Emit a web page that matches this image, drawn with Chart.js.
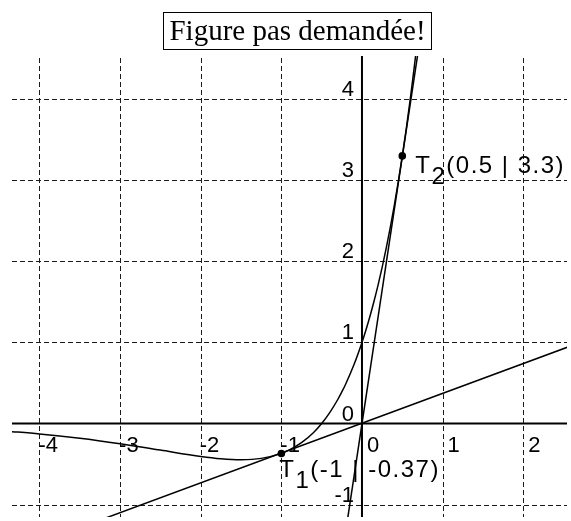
<!DOCTYPE html>
<html>
<head>
<meta charset="utf-8">
<script src="https://cdn.jsdelivr.net/npm/chart.js@4.4.1/dist/chart.umd.min.js"></script>
<style>
  html, body { margin: 0; padding: 0; background: #fff; }
  canvas { display: block; }
</style>
</head>
<body>
<canvas id="c" width="571" height="521"></canvas>
<script>
// f(x) = (2x + 1)·e^x, sampled values
const curveX = [-4.4, -4.0, -3.5, -3.0, -2.5, -2.0, -1.75, -1.5, -1.25, -1.0, -0.9, -0.75, -0.6, -0.5, -0.4, -0.3, -0.25, -0.2, -0.1, 0.0, 0.05, 0.1, 0.15, 0.2, 0.25, 0.3, 0.35, 0.4, 0.45, 0.5, 0.55, 0.6, 0.65, 0.7];
const curveY = [-0.096, -0.128, -0.181, -0.249, -0.328, -0.406, -0.434, -0.446, -0.430, -0.368, -0.325, -0.236, -0.110, 0.0, 0.134, 0.296, 0.389, 0.491, 0.724, 1.0, 1.156, 1.326, 1.510, 1.710, 1.926, 2.160, 2.412, 2.685, 2.980, 3.297, 3.640, 4.009, 4.406, 4.833];

// Lines through the origin and the two marked points
const line1X = [-3.3, 2.6];
const line1Y = [-1.21, 0.96];
const line2X = [-0.2, 0.72];
const line2Y = [-1.32, 4.74];

// Marked points
const pointX = [-1, 0.5];
const pointY = [-0.37, 3.3];
const pointSub = ['1', '2'];
const pointText = ['(-1 | -0.37)', '(0.5 | 3.3)'];

// Axis ticks
const xTicks = [-4, -3, -2, -1, 0, 1, 2];
const yTicks = [-1, 0, 1, 2, 3, 4];

const titleText = 'Figure pas demandée!';

const toXY = (xs, ys) => xs.map((x, i) => ({ x: x, y: ys[i] }));

const SANS = '"Liberation Sans", Arial, sans-serif';
const SERIF = '"Liberation Serif", "Times New Roman", serif';

const geoPlugin = {
  id: 'geoAxes',
  beforeDatasetsDraw(chart) {
    const { ctx, chartArea: a, scales } = chart;
    const sx = scales.x, sy = scales.y;
    const x0 = sx.getPixelForValue(0), y0 = sy.getPixelForValue(0);
    ctx.save();
    // dashed grid
    ctx.strokeStyle = '#1a1a1a';
    ctx.lineWidth = 1;
    ctx.setLineDash([5, 3]);
    xTicks.filter(v => v !== 0).forEach(v => {
      const px = Math.round(sx.getPixelForValue(v)) + 0.5;
      ctx.beginPath(); ctx.moveTo(px, a.top + 2); ctx.lineTo(px, a.bottom); ctx.stroke();
    });
    yTicks.filter(v => v !== 0).forEach(v => {
      const py = Math.round(sy.getPixelForValue(v)) + 0.5;
      ctx.beginPath(); ctx.moveTo(a.left, py); ctx.lineTo(a.right, py); ctx.stroke();
    });
    ctx.setLineDash([]);
    // axes
    ctx.strokeStyle = '#000';
    ctx.lineWidth = 2;
    ctx.beginPath(); ctx.moveTo(a.left, y0); ctx.lineTo(a.right, y0); ctx.stroke();
    ctx.beginPath(); ctx.moveTo(x0, a.top); ctx.lineTo(x0, a.bottom); ctx.stroke();
    // tick labels
    ctx.fillStyle = '#000';
    ctx.font = '22px ' + SANS;
    ctx.textBaseline = 'alphabetic';
    ctx.textAlign = 'left';
    xTicks.forEach(v => {
      const px = sx.getPixelForValue(v);
      ctx.fillText(String(v), px + (v < 0 ? -1 : 5), y0 + 28);
    });
    ctx.textAlign = 'right';
    yTicks.forEach(v => {
      const py = sy.getPixelForValue(v);
      ctx.fillText(String(v), x0 - 8, py - 3);
    });
    ctx.restore();
  },
  afterDatasetsDraw(chart) {
    const { ctx, scales } = chart;
    const sx = scales.x, sy = scales.y;
    ctx.save();
    ctx.fillStyle = '#000';
    // point labels: T with subscript, then coordinates
    const offsets = [{ dx: -2, dy: 23 }, { dx: 13, dy: 17 }];
    ctx.font = '24px ' + SANS;
    ctx.textAlign = 'left';
    ctx.textBaseline = 'alphabetic';
    ctx.letterSpacing = '1.5px';
    pointX.forEach((v, i) => {
      const px = sx.getPixelForValue(v) + offsets[i].dx;
      const py = sy.getPixelForValue(pointY[i]) + offsets[i].dy;
      ctx.fillText('T', px, py);
      const wT = ctx.measureText('T').width;
      ctx.fillText(pointSub[i], px + wT, py + 11);
      const wS = ctx.measureText(pointSub[i]).width;
      ctx.fillText(pointText[i], px + wT + wS, py);
    });
    ctx.letterSpacing = '0px';
    // boxed title
    ctx.font = '29px ' + SERIF;
    ctx.textAlign = 'center';
    ctx.fillText(titleText, 297.5, 40);
    ctx.strokeStyle = '#000';
    ctx.lineWidth = 1;
    ctx.strokeRect(163.5, 12.5, 268, 37);
    ctx.restore();
  }
};

const lineStyle = { borderColor: '#000', borderWidth: 1.5, pointRadius: 0, showLine: true, fill: false };

new Chart(document.getElementById('c'), {
  type: 'scatter',
  data: {
    datasets: [
      Object.assign({ label: 'f', data: toXY(curveX, curveY), cubicInterpolationMode: 'monotone' }, lineStyle),
      Object.assign({ label: 'd1', data: toXY(line1X, line1Y) }, lineStyle),
      Object.assign({ label: 'd2', data: toXY(line2X, line2Y) }, lineStyle),
      { label: 'T', data: toXY(pointX, pointY), showLine: false, pointRadius: 3.8, pointBackgroundColor: '#000', pointBorderColor: '#000', pointBorderWidth: 0 }
    ]
  },
  options: {
    responsive: false,
    animation: false,
    devicePixelRatio: 1,
    layout: { padding: { left: 12, top: 56, right: 0, bottom: 0 } },
    plugins: { legend: { display: false }, tooltip: { enabled: false }, title: { display: false } },
    scales: {
      x: { type: 'linear', display: false, min: -4.341, max: 2.543 },
      y: { type: 'linear', display: false, min: -1.153, max: 4.532 }
    }
  },
  plugins: [geoPlugin]
});
</script>
</body>
</html>
